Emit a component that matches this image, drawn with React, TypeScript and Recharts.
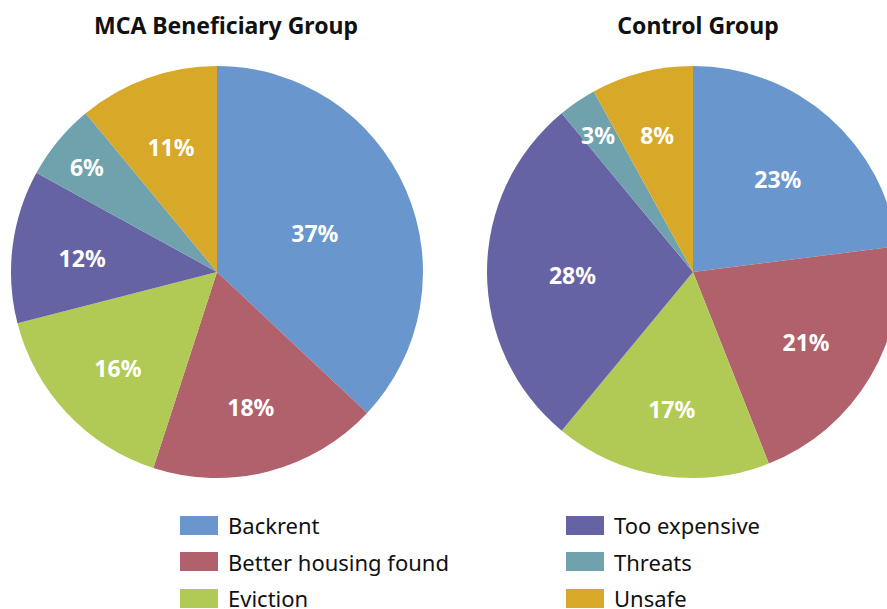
import { PieChart, Pie, Cell, Legend } from 'recharts';

const categories = ['Backrent', 'Better housing found', 'Eviction', 'Too expensive', 'Threats', 'Unsafe'];
const mcaValues = [37, 18, 16, 12, 6, 11];
const controlValues = [23, 21, 17, 28, 3, 8];
const colors = ['#6A96CE', '#B0616C', '#B1CA55', '#6663A5', '#70A2AD', '#D8A828'];
const titles = ['MCA Beneficiary Group', 'Control Group'];

const FONT = '"Noto Sans", "Open Sans", sans-serif';
const RAD = Math.PI / 180;

const mcaData = categories.map((name, i) => ({ name, value: mcaValues[i] }));
const controlData = categories.map((name, i) => ({ name, value: controlValues[i] }));

// label distance from centre, roughly like excel's best fit:
// big slices pull the label in, tiny ones push it out
const labelRatio = (p: number) => {
    if (p < 0.07) return 0.82;
    if (p < 0.1) return 0.66 + (0.1 - p) * 2;
    return 0.66 - Math.max(0, p - 0.18) * 0.75;
};

const renderLabel = (props: any) => {
    const { cx, cy, midAngle, outerRadius, percent, value } = props;
    const r = outerRadius * labelRatio(percent);
    const x = cx + r * Math.cos(-midAngle * RAD);
    const y = cy + r * Math.sin(-midAngle * RAD);
    return (
        <text x={x} y={y + 12} fill="#ffffff" textAnchor="middle"
            fontFamily={FONT} fontWeight={700} fontSize={23}>
            {value}%
        </text>
    );
};

const LegendBox = () => {
    const cols = [categories.slice(0, 3), categories.slice(3)];
    return (
        <div style={{ fontFamily: FONT, fontSize: 22, color: '#111' }}>
            {cols.map((col, c) => (
                <div key={c} style={{ position: 'absolute', left: c === 0 ? 180 : 566, top: 0 }}>
                    {col.map((name) => {
                        const idx = categories.indexOf(name);
                        return (
                            <div key={name} style={{ display: 'flex', alignItems: 'center', height: 36.5 }}>
                                <span style={{ display: 'inline-block', width: 38, height: 19, background: colors[idx], marginRight: 10 }} />
                                <span>{name}</span>
                            </div>
                        );
                    })}
                </div>
            ))}
        </div>
    );
};

const titleStyle = {
    position: 'absolute' as const,
    top: 9,
    width: 400,
    textAlign: 'center' as const,
    fontFamily: FONT,
    fontWeight: 700,
    fontSize: 23,
    color: '#111',
};

const App = () => {
    return (
        <div style={{ position: 'absolute', left: 0, top: 0, width: 887, height: 609, overflow: 'hidden', background: '#fff' }}>
            <div style={{ ...titleStyle, left: 226 - 200 }}>{titles[0]}</div>
            <div style={{ ...titleStyle, left: 698 - 200 }}>{titles[1]}</div>
            <PieChart width={887} height={609} margin={{ top: 0, right: 0, bottom: 0, left: 0 }}>
                <Pie data={mcaData} dataKey="value" nameKey="name" cx={217} cy={272} outerRadius={206}
                    startAngle={90} endAngle={-270} stroke="none" label={renderLabel} labelLine={false}
                    isAnimationActive={false}>
                    {mcaData.map((d, i) => <Cell key={d.name} fill={colors[i]} />)}
                </Pie>
                <Pie data={controlData} dataKey="value" nameKey="name" cx={693} cy={272} outerRadius={206}
                    startAngle={90} endAngle={-270} stroke="none" label={renderLabel} labelLine={false}
                    isAnimationActive={false}>
                    {controlData.map((d, i) => <Cell key={d.name} fill={colors[i]} />)}
                </Pie>
                <Legend content={<LegendBox />} wrapperStyle={{ position: 'absolute', left: 0, top: 507, width: 887 }} />
            </PieChart>
        </div>
    );
};

export default App;
